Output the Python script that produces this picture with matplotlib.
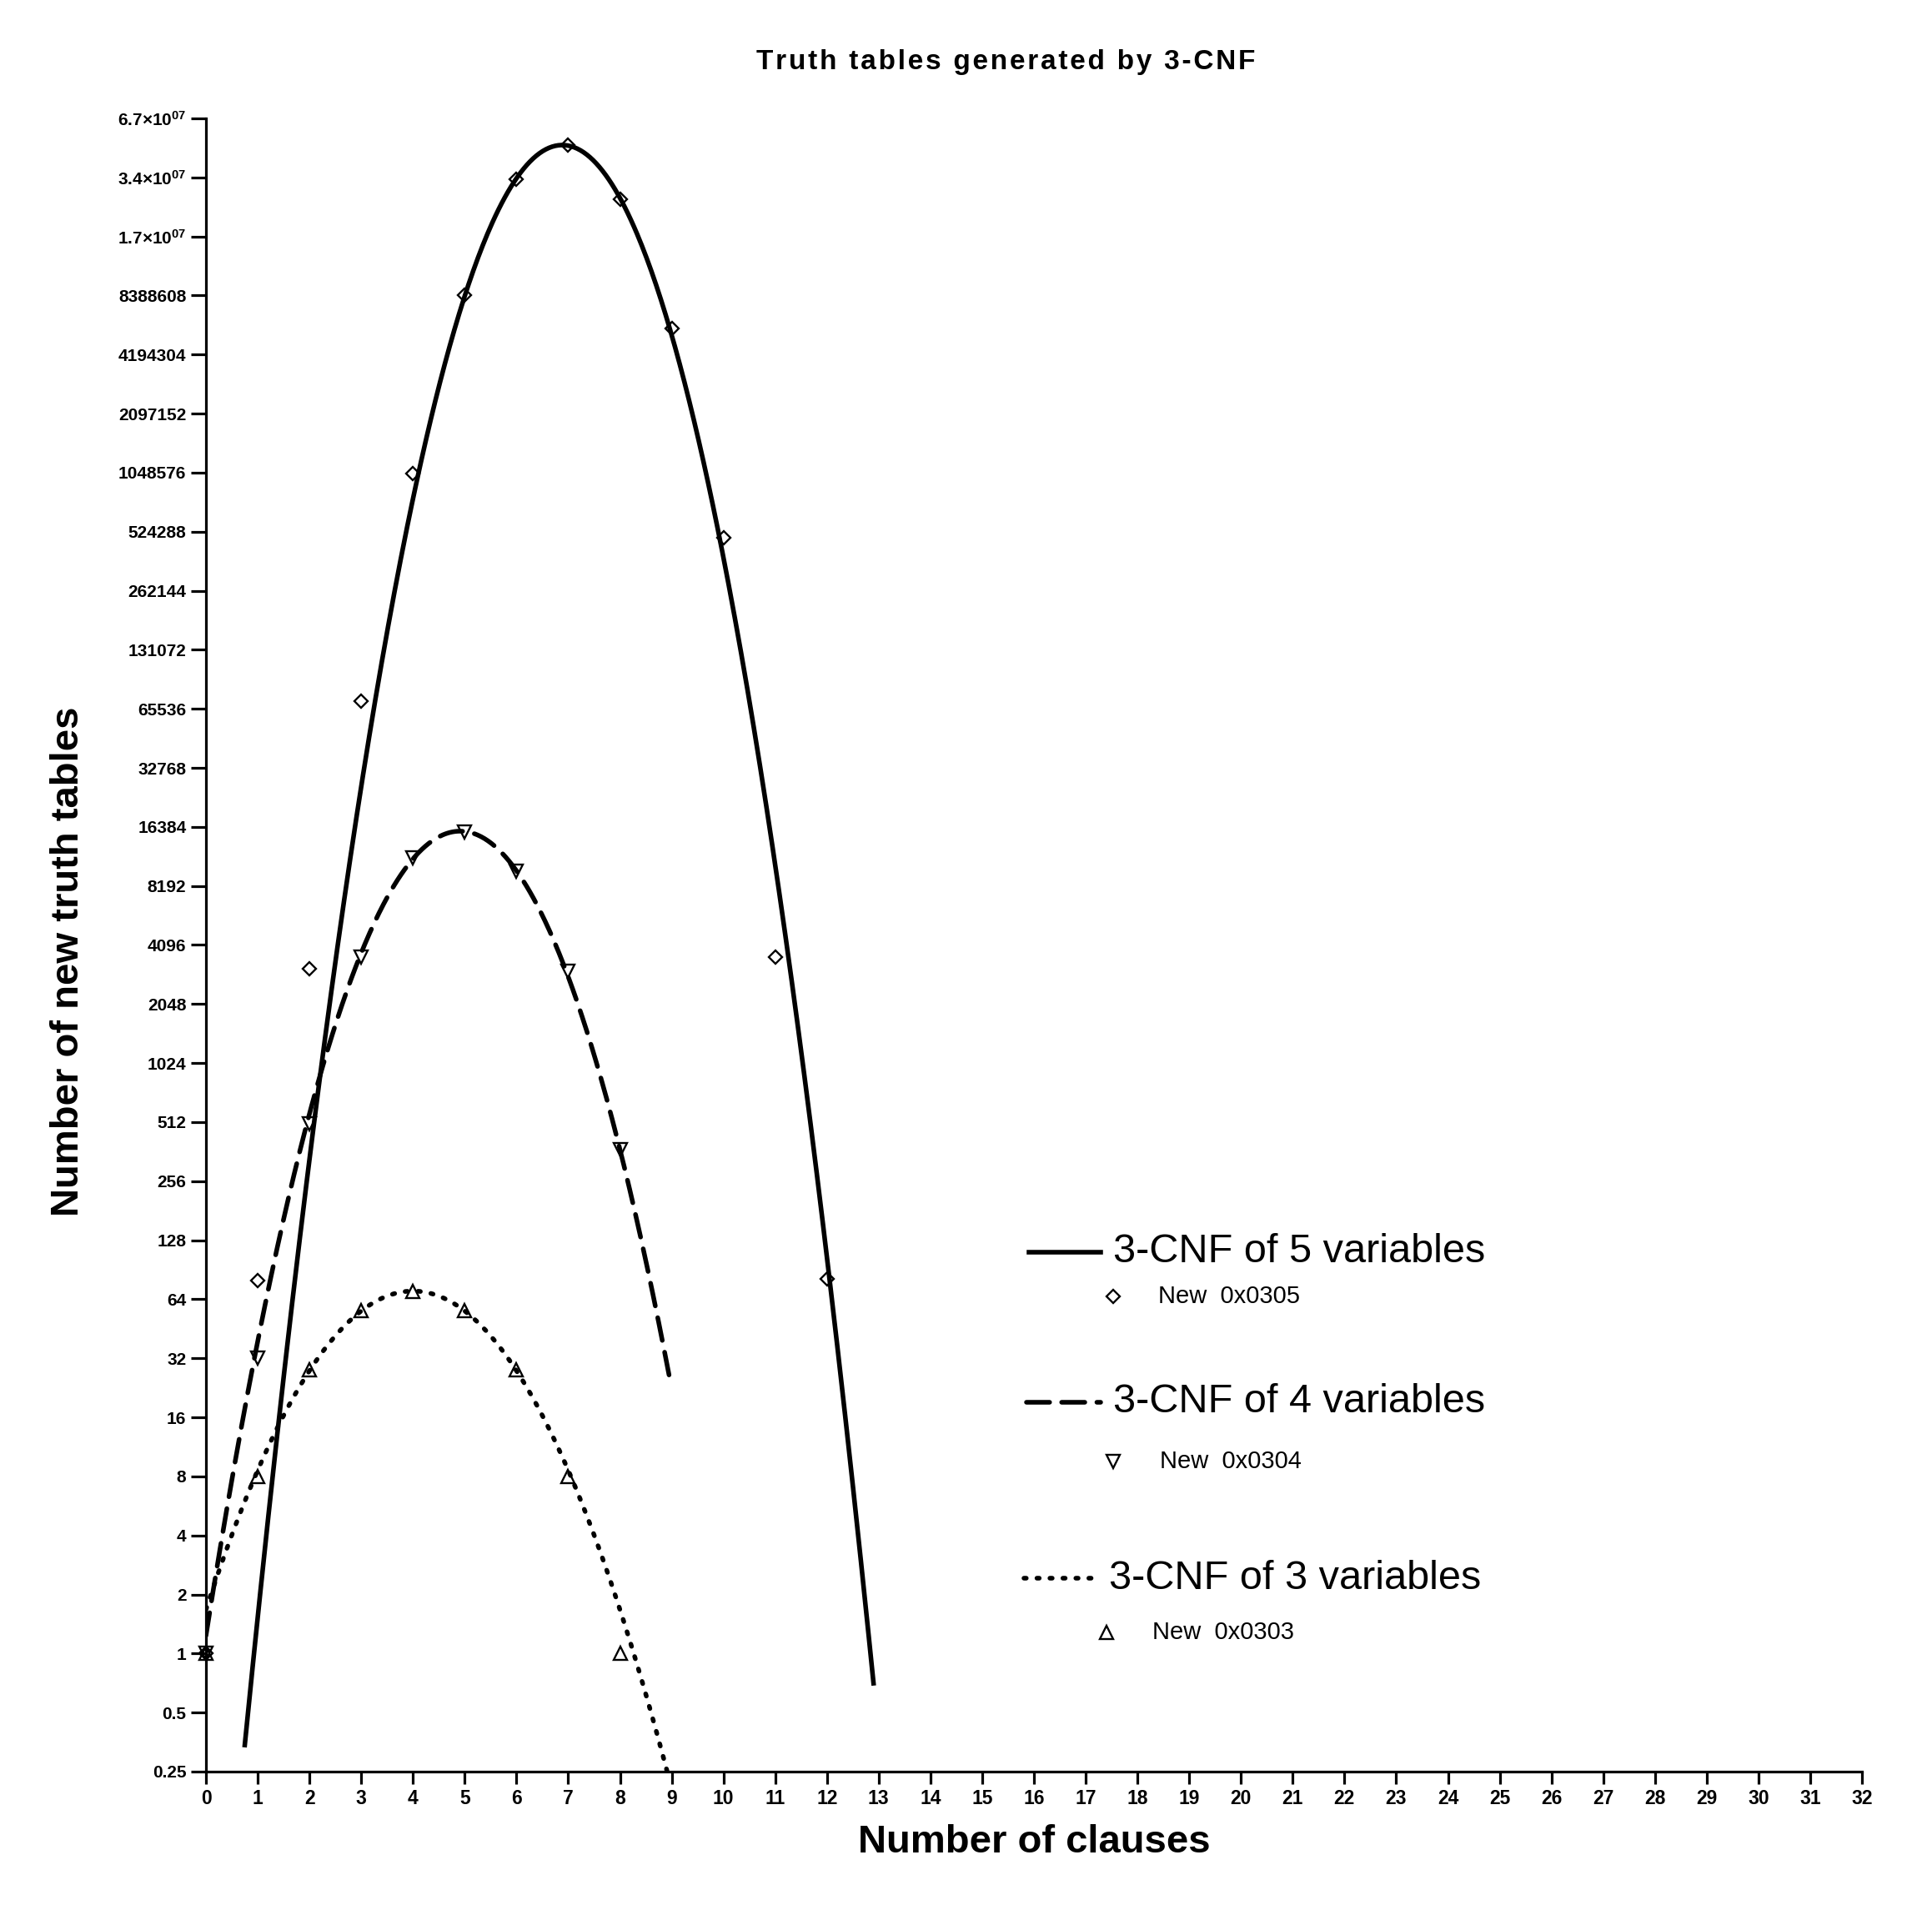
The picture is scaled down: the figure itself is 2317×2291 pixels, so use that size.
import numpy as np
import matplotlib
matplotlib.use('Agg')
import matplotlib.pyplot as plt
from matplotlib.lines import Line2D

plt.rcParams['font.family'] = ['Liberation Sans', 'DejaVu Sans']
plt.rcParams['mathtext.fontset'] = 'custom'
plt.rcParams['mathtext.rm'] = 'Liberation Sans:bold'
plt.rcParams['mathtext.bf'] = 'Liberation Sans:bold'

# dados (número de clausulas -> novas tabelas verdade)
clausulas_5 = [0, 1, 2, 3, 4, 5, 6, 7, 8, 9, 10, 11, 12]
novas_5 = [1, 80, 3100, 72000, 1040000, 8400000, 33000000, 49000000,
           26000000, 5700000, 490000, 3540, 81]

clausulas_4 = [0, 1, 2, 3, 4, 5, 6, 7, 8]
novas_4 = [1, 32, 500, 3540, 11400, 15500, 9700, 3000, 370]

clausulas_3 = [0, 1, 2, 3, 4, 5, 6, 7, 8]
novas_3 = [1, 8, 28, 56, 70, 56, 28, 8, 1]

# intervalo das curvas ajustadas
faixa_5 = (0.75, 12.9)
faixa_4 = (0.0, 8.95)
faixa_3 = (0.0, 9.0)

nomes = ['3-CNF of 5 variables', '3-CNF of 4 variables', '3-CNF of 3 variables']
nomes_pontos = ['New  0x0305', 'New  0x0304', 'New  0x0303']
titulo = 'Truth tables generated by 3-CNF'

W, H = 2317, 2291
fig = plt.figure(figsize=(W / 100, H / 100), dpi=100)
ax = fig.add_axes([247 / W, 1 - 2125 / H, (2233 - 247) / W, (2125 - 142) / H])

ax.set_yscale('log', base=2)
ax.set_xlim(0, 32)
ax.set_ylim(0.25, 2.0 ** 26)


def ajuste(x, y, faixa):
    # ajuste gaussiano aproximado (parabola em log com peso no valor)
    x = np.array(x, float)
    y = np.array(y, float)
    c = np.polyfit(x, np.log2(y), 2, w=y)
    xs = np.linspace(faixa[0], faixa[1], 400)
    return xs, 2.0 ** np.polyval(c, xs)


estilos = [
    dict(ls='-', lw=4.0),
    dict(ls=(0, (5.0, 2.6)), lw=4.0, dash_capstyle='round'),
    dict(ls=(0, (0.5, 2.3)), lw=4.0, dash_capstyle='round'),
]
marcadores = [('D', 8.5), ('v', 11), ('^', 11)]
series = [(clausulas_5, novas_5, faixa_5), (clausulas_4, novas_4, faixa_4),
          (clausulas_3, novas_3, faixa_3)]

for (x, y, faixa), est, (mk, ms) in zip(series, estilos, marcadores):
    xs, ys = ajuste(x, y, faixa)
    ax.plot(xs, ys, color='black', **est)
    ax.plot(x, y, ls='none', marker=mk, ms=ms, mfc='none', mec='black',
            mew=1.7, clip_on=False)

# eixos
for lado in ['top', 'right']:
    ax.spines[lado].set_visible(False)
for lado in ['left', 'bottom']:
    ax.spines[lado].set_linewidth(2.3)

ax.set_xticks(range(0, 33))
ax.tick_params(axis='x', length=11, width=2.3, pad=4, labelsize=16.5)
ax.tick_params(axis='y', length=13, width=2.3, pad=4, labelsize=15)
for t in ax.get_xticklabels():
    t.set_fontweight('bold')

yticks = [2.0 ** k for k in range(-2, 27)]
ylabels = []
for v in yticks:
    if v < 1:
        ylabels.append(f'{v:g}')
    elif v < 2 ** 24:
        ylabels.append(f'{int(v)}')
    else:
        m = v / 1e7
        ylabels.append(r'$\mathregular{%.1f{\times}10^{07}}$' % m)
ax.set_yticks(yticks)
ax.set_yticklabels(ylabels, fontweight='bold')
ax.minorticks_off()

ax.set_xlabel('Number of clauses', fontsize=34, fontweight='bold')
ax.xaxis.set_label_coords(0.5, -0.032)
ax.set_ylabel('Number of new truth tables', fontsize=34, fontweight='bold')
ax.yaxis.set_label_coords(-0.072, 0.49)

# titulo com espacamento entre letras
fig.text(1206 / W, 1 - 74 / H, '\u200a'.join(titulo),
         fontsize=24, fontweight='bold', ha='center', va='center')

# legenda desenhada a mao (posicoes em pixels da figura)
leg_linhas = [(1234, 1320, 1502), (1231, 1320, 1682), (1228, 1315, 1893)]
leg_textos = [1335, 1335, 1330]
leg_marc = [(1335, 1555, 1389), (1335, 1753, 1391), (1327, 1958, 1382)]

for i in range(3):
    x0, x1, yy = leg_linhas[i]
    est = dict(estilos[i])
    fig.add_artist(Line2D([x0 / W, x1 / W], [1 - yy / H, 1 - yy / H],
                          transform=fig.transFigure, color='black', **est))
    fig.text(leg_textos[i] / W, 1 - yy / H, nomes[i],
             fontsize=35, ha='left', va='center')
    mx, my, tx = leg_marc[i]
    mk, ms = marcadores[i]
    fig.add_artist(Line2D([mx / W], [1 - my / H], transform=fig.transFigure,
                          ls='none', marker=mk, ms=ms, mfc='none', mec='black',
                          mew=1.7))
    fig.text(tx / W, 1 - my / H, nomes_pontos[i],
             fontsize=21, ha='left', va='center')

fig.savefig('out.png', dpi=100, facecolor='white')
